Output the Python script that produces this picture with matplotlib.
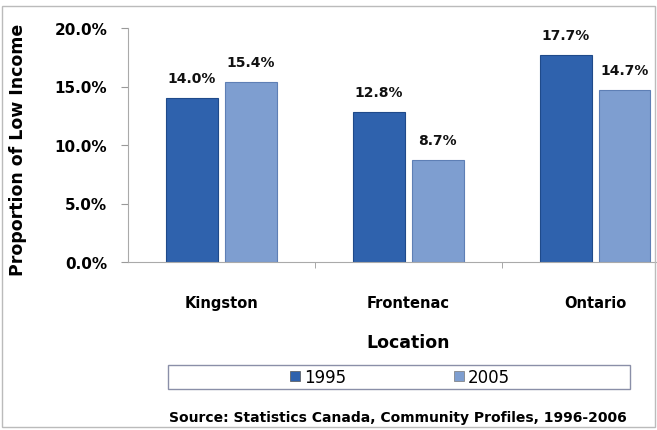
import matplotlib
matplotlib.use("Agg")
import matplotlib.pyplot as plt
from matplotlib.patches import Rectangle, Patch
import numpy as np

locations = ["Kingston", "Frontenac", "Ontario"]
years = ["1995", "2005"]
values_1995 = [14.0, 12.8, 17.7]
values_2005 = [15.4, 8.7, 14.7]
yticks = [0, 5, 10, 15, 20]

c1995 = "#2F62AD"
c2005 = "#7E9ED0"

W, H = 657, 431
fig = plt.figure(figsize=(W / 100, H / 100), dpi=100)
fig.patch.set_facecolor("white")

ax = fig.add_axes([128 / W, 1 - 263 / H, 1 - 128 / W, (263 - 29) / H])
x = np.arange(len(locations))
bw = 0.275
gap = 0.04
b1 = ax.bar(x - bw / 2 - gap / 2, values_1995, bw, color=c1995,
            edgecolor="#1F4A8A", linewidth=0.8)
b2 = ax.bar(x + bw / 2 + gap / 2, values_2005, bw, color=c2005,
            edgecolor="#5E7FB5", linewidth=0.8)

for bars, vals in ((b1, values_1995), (b2, values_2005)):
    for r, v in zip(bars, vals):
        ax.text(r.get_x() + r.get_width() / 2, v + 1.1, f"{v:.1f}%",
                ha="center", va="bottom", fontsize=10, fontweight="bold",
                color="#111111")

ax.set_ylim(0, 20)
ax.set_xlim(-0.5, 2.33)
ax.set_yticks(yticks)
ax.set_yticklabels([f"{t:.1f}%" for t in yticks], fontsize=11,
                   fontweight="bold")
ax.set_xticks(x)
ax.set_xticklabels(locations, fontsize=10.5, fontweight="bold")
ax.set_xticks([0.5, 1.5], minor=True)
ax.tick_params(axis="x", which="major", length=0, pad=24)
ax.tick_params(axis="x", which="minor", length=4, color="#999999")
ax.tick_params(axis="y", length=5, color="#999999", pad=10)
for s in ("top", "right"):
    ax.spines[s].set_visible(False)
ax.spines["left"].set_color("#AAAAAA")
ax.spines["bottom"].set_color("#AAAAAA")
ax.set_facecolor("white")

fig.text(18 / W, 1 - 150 / H, "Proportion of Low Income", rotation=90,
         ha="center", va="center", fontsize=12.5, fontweight="bold")
fig.text(408 / W, 1 - 343 / H, "Location", ha="center", va="center",
         fontsize=12.5, fontweight="bold")

# legend box
fig.patches.append(Rectangle((168 / W, 1 - 390 / H), (630 - 168) / W,
                             (390 - 366) / H, transform=fig.transFigure,
                             facecolor="white", edgecolor="#8A8FA8",
                             linewidth=1))
handles = [Patch(facecolor=c1995, edgecolor="#555555", linewidth=0.5),
           Patch(facecolor=c2005, edgecolor="#777777", linewidth=0.5)]
fig.legend(handles, years, loc="center", bbox_to_anchor=(400 / W, 1 - 378 / H),
           ncol=2, frameon=False, fontsize=12, handlelength=0.6,
           handleheight=0.6, handletextpad=0.2, columnspacing=6.5)

fig.text(398 / W, 1 - 418 / H,
         "Source: Statistics Canada, Community Profiles, 1996-2006",
         ha="center", va="center", fontsize=10, fontweight="bold")

fig.patches.append(Rectangle((2 / W, 3 / H), (W - 4) / W, (H - 10) / H,
                             transform=fig.transFigure, facecolor="none",
                             edgecolor="#BBBBBB", linewidth=1))

fig.savefig("out.png", dpi=100, facecolor="white")
